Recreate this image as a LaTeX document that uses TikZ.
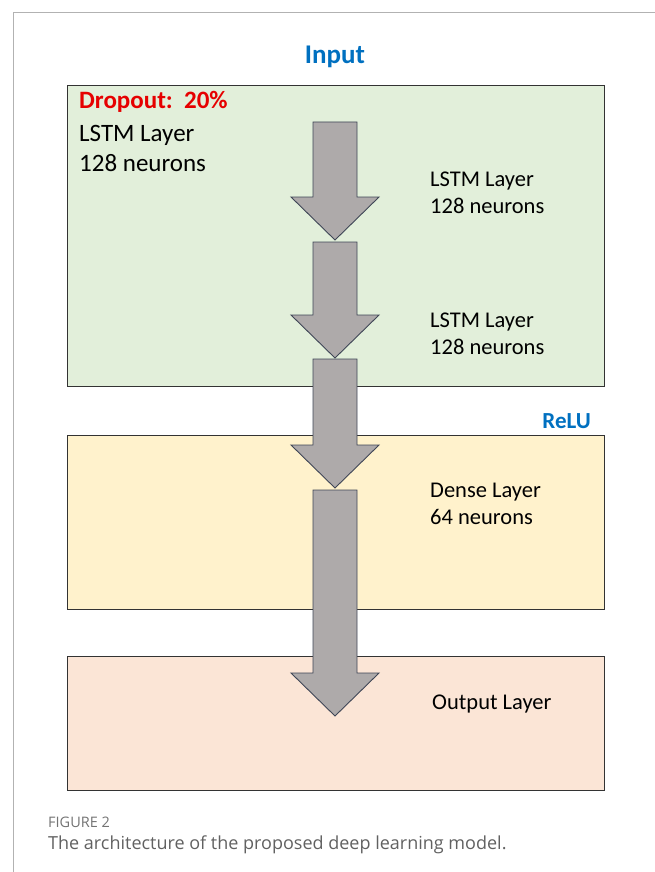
\documentclass[tikz,border=0pt]{standalone}
\usepackage{fontspec}
\setmainfont{Carlito}
\newfontfamily\captionfont{Open Sans}
\usetikzlibrary{positioning}

\definecolor{lstmfill}{HTML}{E2EFDA}
\definecolor{densefill}{HTML}{FFF2CC}
\definecolor{outfill}{HTML}{FBE5D6}
\definecolor{arrowgray}{HTML}{AEAAAA}
\definecolor{arrowline}{HTML}{3F4656}
\definecolor{titleblue}{HTML}{0070C0}
\definecolor{dropred}{HTML}{E60000}

\begin{document}
\begin{tikzpicture}[x=1pt,y=-1pt,
  layerbox/.style={draw=black!80,line width=1pt,inner sep=0,minimum width=537pt},
  blockarrow/.style={draw=arrowline,fill=arrowgray,line width=0.9pt,line join=miter},
  ltext/.style={anchor=base west,inner sep=0,font=\fontsize{25}{30}\selectfont},
  rtext/.style={anchor=base west,inner sep=0,font=\fontsize{22.5}{27}\selectfont},
  tag/.style={inner sep=0,font=\bfseries\fontsize{23}{27}\selectfont,text=titleblue}]

 \useasboundingbox (0,0) rectangle (655,872);
 % page frame
 \draw[black!30,line width=1pt] (655,13) -- (13,13) -- (13,872);

 % layers
 \node[layerbox,fill=lstmfill,minimum height=300pt] (lstm) at (335.5,236) {};
 \node[layerbox,fill=densefill,minimum height=174pt] (dense) at (335.5,522) {};
 \node[layerbox,fill=outfill,minimum height=134pt] (out) at (335.5,723) {};

 % flow between the layers
 \foreach \top/\tip in {122/240,242/358,359/488,490/716}
  \draw[blockarrow] (313,\top) -- (357,\top) -- (357,\tip-43) -- (379,\tip-43)
   -- (335,\tip) -- (291,\tip-43) -- (313,\tip-43) -- cycle;

 \node[tag,font=\bfseries\fontsize{27}{32}\selectfont,anchor=base] (input) at (335,64) {Input};
 \node[tag,anchor=base east] (relu) at (591,428) {ReLU};

 \node[ltext,font=\bfseries\fontsize{25}{30}\selectfont,text=dropred] (drop) at (79,109) {Dropout:\ \ 20\%};
 \node[ltext] (l0a) at (79,141.5) {LSTM Layer};
 \node[ltext] (l0b) at (79,171.5) {128 neurons};

 \node[rtext] (l1a) at (430,186) {LSTM Layer};
 \node[rtext] (l1b) at (430,213) {128 neurons};
 \node[rtext] (l2a) at (430,327) {LSTM Layer};
 \node[rtext] (l2b) at (430,354) {128 neurons};
 \node[rtext] (d1a) at (430,497) {Dense Layer};
 \node[rtext] (d1b) at (430,524) {64 neurons};
 \node[rtext] (o1) at (432,709) {Output Layer};

 % caption
 \node[anchor=base west,inner sep=0,text=black!55,font=\captionfont\fontsize{14.5}{16}\selectfont] (fig) at (48,827) {FIGURE 2};
 \node[anchor=base west,inner sep=0,text=black!62,font=\captionfont\fontsize{18}{20}\selectfont] (cap) at (48,849) {The architecture of the proposed deep learning model.};
\end{tikzpicture}
\end{document}
